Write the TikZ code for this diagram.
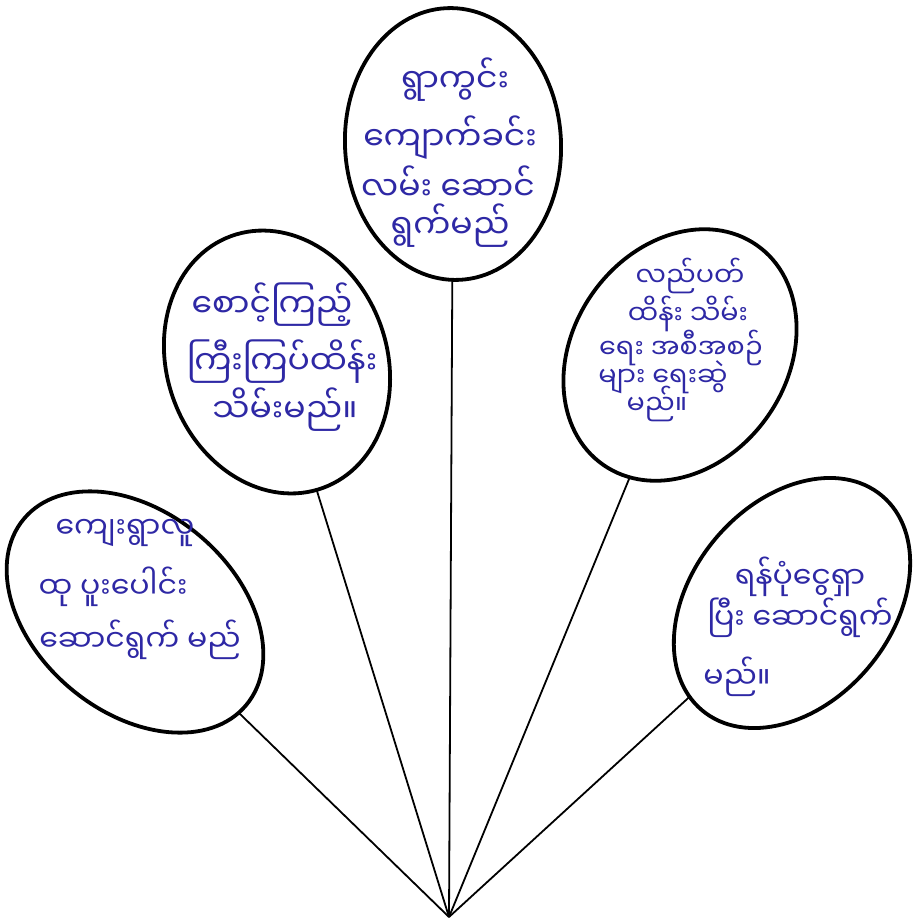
\documentclass[tikz,border=0pt]{standalone}
\usepackage{fontspec}
\newfontfamily\myan[Script=Myanmar]{Noto Sans Myanmar UI}
\usetikzlibrary{shapes.geometric}
\definecolor{ink}{RGB}{46,40,165}
\begin{document}
\begin{tikzpicture}[x=1pt,y=-1pt,
  bubble/.style={draw=black, line width=3.8pt, ellipse, inner sep=0pt, outer sep=0pt},
  txt/.style={text=ink, font=\myan\fontsize{30}{34}\selectfont, inner sep=0pt, anchor=center},
  btxt/.style={txt, font=\myan\fontsize{33}{38}\selectfont},
  stxt/.style={txt, font=\myan\fontsize{27}{30}\selectfont},
  spoke/.style={draw=black, line width=1.8pt}]
\useasboundingbox (0,0) rectangle (914,918);
\fill[white] (0,0) rectangle (914,918);

\coordinate (apex) at (449,917);

\node[bubble, minimum width=216pt, minimum height=272pt, rotate=3] (e1) at (453,144) {};
\node[bubble, minimum width=220pt, minimum height=268pt, rotate=20] (e2) at (277,362) {};
\node[bubble, minimum width=214pt, minimum height=268pt, rotate=-35] (e3) at (680,355) {};
\node[bubble, minimum width=290pt, minimum height=200pt, rotate=-40] (e4) at (135,612) {};
\node[bubble, minimum width=200pt, minimum height=280pt, rotate=-40] (e5) at (792,603) {};

\draw[spoke] (e1) -- (apex);
\draw[spoke] (e2) -- (apex);
\draw[spoke] (e3) -- (apex);
\draw[spoke] (e4) -- (apex);
\draw[spoke] (e5) -- (apex);

% top bubble
\node[btxt] (t1a) at (455,80) {ရွာကွင်း};
\node[btxt] (t1b) at (450,138) {ကျောက်ခင်း};
\node[btxt] (t1c) at (448,183) {လမ်း ဆောင်};
\node[btxt] (t1d) at (450,226) {ရွက်မည်};

% left middle bubble
\node[btxt] (t2a) at (272,305) {စောင့်ကြည့်};
\node[btxt] (t2b) at (282,362) {ကြီးကြပ်ထိန်း};
\node[btxt] (t2c) at (285,410) {သိမ်းမည်။};

% right middle bubble
\node[stxt] (t3a) at (690,276) {လည်ပတ်};
\node[stxt] (t3b) at (688,314) {ထိန်း သိမ်း};
\node[stxt] (t3c) at (681,348) {ရေး အစီအစဉ်};
\node[stxt] (t3d) at (663,377) {များ ရေးဆွဲ};
\node[stxt] (t3e) at (657,404) {မည်။};

% bottom left bubble
\node[txt] (t4a) at (125,533) {ကျေးရွာလူ};
\node[txt] (t4b) at (113,587) {ထု ပူးပေါင်း};
\node[txt] (t4c) at (140,640) {ဆောင်ရွက် မည်};

% bottom right bubble
\node[txt] (t5a) at (800,577) {ရန်ပုံငွေရှာ};
\node[txt] (t5b) at (800,618) {ပြီး ဆောင်ရွက်};
\node[txt] (t5c) at (737,677) {မည်။};
\end{tikzpicture}
\end{document}
